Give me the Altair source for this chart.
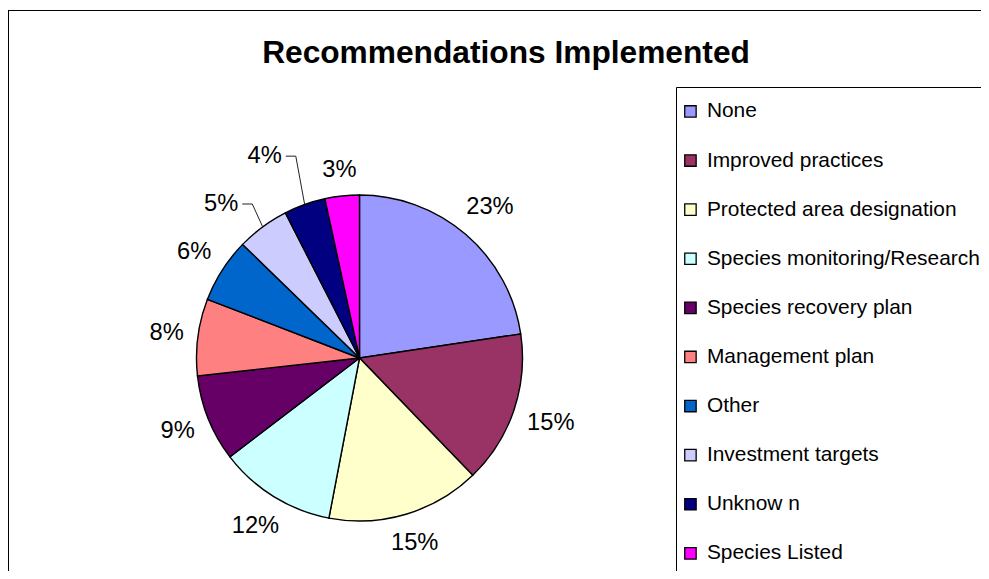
import altair as alt
import pandas as pd

# ---- data ----
categories = [
    "None",
    "Improved practices",
    "Protected area designation",
    "Species monitoring/Research",
    "Species recovery plan",
    "Management plan",
    "Other",
    "Investment targets",
    "Unknow n",
    "Species Listed",
]
shares = [22.6, 15.1, 15.2, 11.6, 8.6, 7.6, 6.4, 5.2, 4.1, 3.4]
colors = ["#9999FF", "#993366", "#FFFFCC", "#CCFFFF", "#660066",
          "#FF8080", "#0066CC", "#CCCCFF", "#000080", "#FF00FF"]
title_text = "Recommendations Implemented"
leader_cats = ["Investment targets", "Unknow n"]

# ---- layout / style ----
W, H = 973, 563
CX, CY, R = 351.5, 350, 163
FONT = "Liberation Sans"
PCT_SIZE = 23.7
LEG_X, LEG_Y = 668.5, 79.5   # legend frame (left / top line)

df = pd.DataFrame({"category": categories, "share": shares,
                   "idx": list(range(len(categories)))})
one = pd.DataFrame({"t": [title_text]})

base = alt.Chart(df)

pie = base.mark_arc(radius=R, stroke="black", strokeWidth=1.4).encode(
    theta=alt.Theta("share:Q", stack=True),
    order=alt.Order("idx:Q", sort="ascending"),
    color=alt.Color(
        "category:N",
        scale=alt.Scale(domain=categories, range=colors),
        sort=categories,
        legend=alt.Legend(
            title=None, orient="none", legendX=672, legendY=93,
            direction="vertical",
            symbolType="square", symbolSize=130,
            symbolStrokeColor="black", symbolStrokeWidth=1.3, symbolOpacity=1,
            labelFont=FONT, labelFontSize=20.9, labelColor="black",
            labelLimit=400, labelOffset=6, rowPadding=27.1, padding=0,
        ),
    ),
    x=alt.value(CX),
    y=alt.value(CY),
)

geo = (
    base.transform_window(cum="sum(share)",
                          sort=[alt.SortField("idx", order="ascending")],
                          frame=[None, 0])
    .transform_joinaggregate(total="sum(share)")
    .transform_calculate(
        mid="(datum.cum - datum.share / 2) / datum.total * 2 * PI",
        pct="format(datum.share / datum.total, '.0%')",
        hw="(length(datum.pct) - 1) * 6.6 + 10.5",
    )
)

# outside-end labels: a fixed gap from the rim plus the half-extent of the text box
labels = (
    geo.transform_filter(f"indexof({leader_cats}, datum.category) < 0")
    .transform_calculate(
        dist="176 + abs(sin(datum.mid)) * datum.hw + abs(cos(datum.mid)) * 11",
        lx=f"{CX} + datum.dist * sin(datum.mid)",
        ly=f"{CY} - datum.dist * cos(datum.mid)",
    )
    .mark_text(font=FONT, fontSize=PCT_SIZE, align="center", baseline="middle",
               color="black")
    .encode(x=alt.X("lx:Q", scale=None, axis=None),
            y=alt.Y("ly:Q", scale=None, axis=None),
            text="pct:N")
)

# labels pulled further out, joined to their slice by a leader line
lead = geo.transform_filter(
    f"indexof({leader_cats}, datum.category) >= 0"
).transform_calculate(
    lr="datum.category == 'Unknow n' ? 223 : 207",
    la="datum.mid - 5.5 * PI / 180",
    lx=f"{CX} + datum.lr * sin(datum.la)",
    ly=f"{CY} - datum.lr * cos(datum.la)",
    x0=f"{CX} + {R} * sin(datum.mid)",
    y0=f"{CY} - {R} * cos(datum.mid)",
    ex="datum.lx + datum.hw + 14",
    hx="datum.lx + datum.hw + 4",
)

seg1 = lead.mark_rule(color="#222222", strokeWidth=1).encode(
    x=alt.X("x0:Q", scale=None, axis=None), y=alt.Y("y0:Q", scale=None, axis=None),
    x2="ex:Q", y2="ly:Q")
seg2 = lead.mark_rule(color="#222222", strokeWidth=1).encode(
    x=alt.X("ex:Q", scale=None, axis=None), y=alt.Y("ly:Q", scale=None, axis=None),
    x2="hx:Q", y2="ly:Q")
ltext = lead.mark_text(font=FONT, fontSize=PCT_SIZE, align="center", baseline="middle",
                       color="black").encode(
    x=alt.X("lx:Q", scale=None, axis=None), y=alt.Y("ly:Q", scale=None, axis=None),
    text="pct:N")

title = alt.Chart(one).mark_text(font=FONT, fontSize=31.7, fontWeight="bold",
                                 align="center", baseline="middle",
                                 color="black").encode(
    x=alt.value(498), y=alt.value(45), text="t:N")

frame_top = alt.Chart(one).mark_rule(color="black", strokeWidth=1).encode(
    x=alt.value(0), x2=alt.value(W), y=alt.value(2.5))
frame_left = alt.Chart(one).mark_rule(color="black", strokeWidth=1).encode(
    x=alt.value(0.5), y=alt.value(2), y2=alt.value(H))
legend_top = alt.Chart(one).mark_rule(color="black", strokeWidth=1).encode(
    x=alt.value(LEG_X), x2=alt.value(W), y=alt.value(LEG_Y))
legend_left = alt.Chart(one).mark_rule(color="black", strokeWidth=1).encode(
    x=alt.value(LEG_X), y=alt.value(LEG_Y), y2=alt.value(H))

chart = alt.layer(
    pie, labels, seg1, seg2, ltext, title,
    frame_top, frame_left, legend_top, legend_left,
).properties(
    width=W, height=H,
    autosize=alt.AutoSizeParams(type="none"),
    padding=0,
).configure_view(stroke=None)

chart.save("out.html", embed_options={"renderer": "svg", "actions": False})
